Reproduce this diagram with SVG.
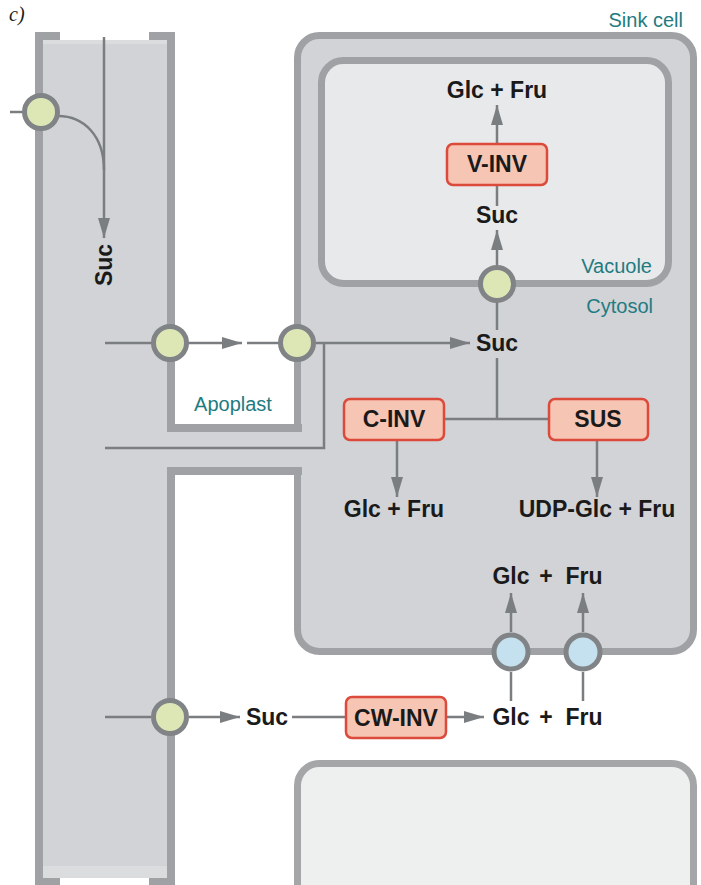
<svg xmlns="http://www.w3.org/2000/svg" width="701" height="885" viewBox="0 0 701 885">
<defs>
<marker id="ah" markerUnits="userSpaceOnUse" markerWidth="20" markerHeight="12" refX="20" refY="6" orient="auto"><path d="M0,0 L20,6 L0,12 z" fill="#7b7e81"/></marker>
<style>
.wall{fill:#9fa1a4}
.cyto{fill:#d1d3d6}
.ln{fill:none;stroke:#7b7e81;stroke-width:2.5}
.arr{marker-end:url(#ah)}
.tg{fill:#dde7b6;stroke:#818486;stroke-width:5}
.tb{fill:#c5e0ee;stroke:#818486;stroke-width:5}
.enz rect{fill:#f7c5b3;stroke:#dc4a3b;stroke-width:2.5}
.t{font-family:"Liberation Sans",Arial,sans-serif;font-weight:bold;font-size:23px;fill:#1a1a1a;text-anchor:middle}
.lab{font-family:"Liberation Sans",Arial,sans-serif;font-size:20px;fill:#237b82}
</style>
</defs>
<rect width="701" height="885" fill="#ffffff"/>
<text x="9" y="21" font-family="'Liberation Serif',serif" font-style="italic" font-size="20" fill="#1a1a1a">c)</text>

<g id="sink-cell">
<rect x="297.5" y="35.5" width="396" height="616" rx="22" fill="#d1d3d6" stroke="#9fa1a4" stroke-width="7"/>
<text class="lab" x="683" y="27" text-anchor="end">Sink cell</text>
<text class="lab" x="653" y="313" text-anchor="end">Cytosol</text>
</g>
<g id="vacuole">
<rect x="321.5" y="60.5" width="347" height="223" rx="22" fill="#e8e9ea" stroke="#9fa1a4" stroke-width="7"/>
<text class="lab" x="652" y="273" text-anchor="end">Vacuole</text>
</g>
<g id="lower-cell">
<rect x="297.5" y="763.5" width="396" height="170" rx="22" fill="#eef0f0" stroke="#a4a6a8" stroke-width="7"/>
</g>
<g id="sieve-tube">
<rect class="cyto" x="35" y="40" width="140" height="838"/>
<rect x="43" y="40" width="124" height="4" fill="#dadcde"/>
<rect x="43" y="866" width="124" height="12" fill="#dadcde"/>
<rect class="cyto" x="170" y="432" width="134" height="35"/>
<rect class="wall" x="35" y="32" width="8" height="853"/>
<rect class="wall" x="35" y="32" width="25" height="8"/>
<rect class="wall" x="149" y="32" width="26" height="8"/>
<rect class="wall" x="35" y="878" width="25" height="7"/>
<rect class="wall" x="149" y="878" width="26" height="7"/>
<rect class="wall" x="167" y="32" width="8" height="400"/>
<rect class="wall" x="167" y="467" width="8" height="418"/>
</g>
<g id="apoplast">
<rect class="wall" x="167" y="424" width="135" height="8"/>
<rect class="wall" x="167" y="467" width="135" height="8"/>
<text class="lab" x="233" y="411" text-anchor="middle">Apoplast</text>
</g>

<g id="connectors" class="ln">
<line x1="10" y1="112" x2="24" y2="112"/>
<path d="M58 116 C84 116 104 136 104 170"/>
<line class="arr" x1="104" y1="37" x2="104" y2="238"/>
<line x1="105" y1="343" x2="152" y2="343"/>
<line class="arr" x1="188" y1="343" x2="242" y2="343"/>
<line x1="247" y1="343" x2="279" y2="343"/>
<line class="arr" x1="315" y1="343" x2="470" y2="343"/>
<polyline points="105,448 324,448 324,343"/>
<line x1="497" y1="302" x2="497" y2="330"/>
<line class="arr" x1="497" y1="265" x2="497" y2="230"/>
<line x1="497" y1="185" x2="497" y2="206"/>
<line class="arr" x1="497" y1="144" x2="497" y2="105"/>
<line x1="497" y1="358" x2="497" y2="419"/>
<line x1="444" y1="419" x2="549" y2="419"/>
<line class="arr" x1="397" y1="440" x2="397" y2="497"/>
<line class="arr" x1="597" y1="440" x2="597" y2="497"/>
<line class="arr" x1="511" y1="632" x2="511" y2="593"/>
<line class="arr" x1="583" y1="632" x2="583" y2="593"/>
<line x1="511" y1="701" x2="511" y2="672"/>
<line x1="583" y1="701" x2="583" y2="672"/>
<line x1="105" y1="717" x2="151" y2="717"/>
<line class="arr" x1="189" y1="717" x2="240" y2="717"/>
<line x1="292" y1="717" x2="346" y2="717"/>
<line class="arr" x1="446" y1="717" x2="484" y2="717"/>
</g>

<g id="transporter-phloem-load"><circle class="tg" cx="41" cy="112" r="16.5"/></g>
<g id="transporter-sieve-out"><circle class="tg" cx="170" cy="343" r="16.5"/></g>
<g id="transporter-sink-in"><circle class="tg" cx="297" cy="343" r="16.5"/></g>
<g id="transporter-tonoplast"><circle class="tg" cx="497" cy="284" r="16.5"/></g>
<g id="transporter-sieve-out-2"><circle class="tg" cx="170" cy="717" r="16.5"/></g>
<g id="transporter-hex-1"><circle class="tb" cx="511" cy="652" r="17"/></g>
<g id="transporter-hex-2"><circle class="tb" cx="583" cy="652" r="17"/></g>

<g id="enzyme-vinv" class="enz"><rect x="447" y="144" width="100" height="41" rx="6"/><text class="t" x="497" y="172">V-INV</text></g>
<g id="enzyme-cinv" class="enz"><rect x="344" y="399" width="100" height="41" rx="6"/><text class="t" x="394" y="427">C-INV</text></g>
<g id="enzyme-sus" class="enz"><rect x="549" y="399" width="99" height="41" rx="6"/><text class="t" x="598" y="427">SUS</text></g>
<g id="enzyme-cwinv" class="enz"><rect x="346" y="697" width="100" height="41" rx="6"/><text class="t" x="396" y="726">CW-INV</text></g>

<g id="metabolites">
<text class="t" transform="translate(112,265) rotate(-90)">Suc</text>
<text class="t" x="497" y="98">Glc + Fru</text>
<text class="t" x="497" y="223">Suc</text>
<text class="t" x="497" y="351">Suc</text>
<text class="t" x="394" y="517">Glc + Fru</text>
<text class="t" x="597" y="517">UDP-Glc + Fru</text>
<text class="t" x="511" y="584">Glc</text>
<text class="t" x="546" y="584">+</text>
<text class="t" x="584" y="584">Fru</text>
<text class="t" x="267" y="725">Suc</text>
<text class="t" x="511" y="725">Glc</text>
<text class="t" x="546" y="725">+</text>
<text class="t" x="584" y="725">Fru</text>
</g>
</svg>
